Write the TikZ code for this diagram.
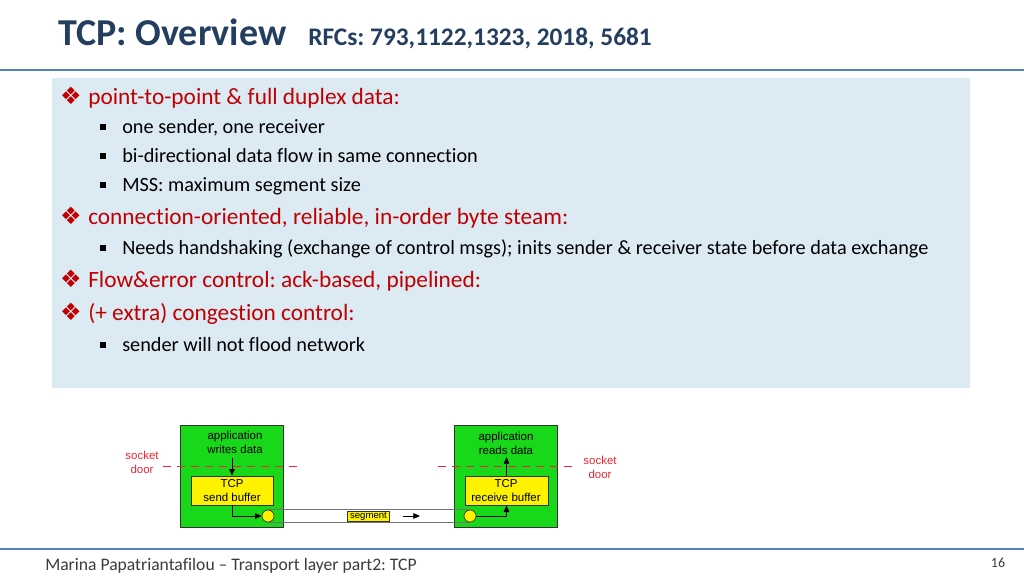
\documentclass[tikz,border=0pt]{standalone}
\usepackage{fontspec}
\setmainfont{Carlito}[Ligatures=NoCommon]
\newfontfamily\dejavu{DejaVu Sans}
\newfontfamily\arialf{Liberation Sans}
\usetikzlibrary{arrows.meta}
\definecolor{titleblue}{RGB}{36,62,96}
\definecolor{rulerblue}{RGB}{84,130,188}
\definecolor{boxblue}{RGB}{220,234,244}
\definecolor{bred}{RGB}{192,0,0}
\definecolor{ggreen}{RGB}{25,215,25}
\definecolor{sred}{RGB}{232,40,50}
\definecolor{footgray}{RGB}{60,60,60}
\pgfdeclarelayer{bg}
\pgfdeclarelayer{mid}
\pgfsetlayers{bg,mid,main}
\frenchspacing
\begin{document}
\begin{tikzpicture}[x=0.75pt,y=-0.75pt,
  lvlone/.style={anchor=base west, inner sep=0, text=bred, font=\fontsize{17.5}{20}\selectfont},
  lvltwo/.style={anchor=base west, inner sep=0, text=black, font=\fontsize{15.2}{18}\selectfont},
  diamondbullet/.style={anchor=base, inner sep=0, text=bred, font=\dejavu\fontsize{18}{18}\selectfont},
  sqbullet/.style={fill=black, inner sep=0, minimum size=5pt},
  dia/.style={align=center, inner sep=0, font=\arialf\fontsize{8.6}{10.5}\selectfont},
  sock/.style={align=center, inner sep=0, text=sred, font=\arialf\fontsize{8.6}{10.5}\selectfont},
  greenbox/.style={draw=black!80, fill=ggreen, line width=0.5pt, minimum width=77.25pt, minimum height=76.5pt, inner sep=0},
  ybox/.style={draw=black!80, fill=yellow, line width=0.5pt, minimum height=21.75pt, inner sep=0},
  port/.style={circle, draw=black!80, fill=yellow, line width=0.5pt, minimum size=9pt, inner sep=0},
  arr/.style={-{Triangle[length=5pt,width=4.2pt]}, line width=0.6pt, black},
  doorline/.style={sred, line width=0.6pt, dash pattern=on 6pt off 4.5pt},
  pipe/.style={black!55, line width=0.6pt}]
\useasboundingbox (0,0) rectangle (1024,576);
\begin{pgfonlayer}{bg}
\fill[white] (0,0) rectangle (1024,576);
\fill[boxblue] (52,78) rectangle (970,388);
\end{pgfonlayer}

% title
\node[anchor=base west, inner sep=0, text=titleblue, font=\bfseries\fontsize{28.5}{30}\selectfont] (title) at (58,45) {TCP: Overview};
\node[anchor=base west, inner sep=0, text=titleblue, font=\bfseries\fontsize{19}{21}\selectfont] (rfc) at (308,45) {RFCs: 793,1122,1323, 2018, 5681};
\draw[rulerblue, line width=2.2pt] (0,70) -- (1024,70);

\node[diamondbullet] (b1) at (71,104) {❖};
\node[lvlone] (t1) at (88,104) {point-to-point \& full duplex data:};
\node[sqbullet] (s1) at (103,127) {};
\node[lvltwo] (t2) at (122,133) {one sender, one receiver};
\node[sqbullet] (s2) at (103,156) {};
\node[lvltwo] (t3) at (122,162) {bi-directional data flow in same connection};
\node[sqbullet] (s3) at (103,185) {};
\node[lvltwo] (t4) at (122,191) {MSS: maximum segment size};
\node[diamondbullet] (b2) at (71,224) {❖};
\node[lvlone] (t5) at (88,224) {connection-oriented, reliable, in-order byte steam:};
\node[sqbullet] (s4) at (103,248) {};
\node[lvltwo] (t6) at (122,254) {Needs handshaking (exchange of control msgs); inits sender \& receiver state before data exchange};
\node[diamondbullet] (b3) at (71,287) {❖};
\node[lvlone] (t7) at (88,287) {Flow\&error control: ack-based, pipelined:};
\node[diamondbullet] (b4) at (71,320) {❖};
\node[lvlone] (t8) at (88,320) {(+ extra) congestion control:};
\node[sqbullet] (s5) at (103,345) {};
\node[lvltwo] (t9) at (122,351) {sender will not flood network};

% diagram
\begin{pgfonlayer}{bg}
\node[greenbox] (gL) at (231.5,476) {};
\node[greenbox] (gR) at (505.5,476) {};
\end{pgfonlayer}
\node[ybox, minimum width=61.5pt] (yL) at (232,490.5) {};
\node[ybox, minimum width=62.25pt] (yR) at (506.5,490.5) {};
\node[dia] (tcpL) at (232,491) {TCP\\send buffer};
\node[dia] (tcpR) at (506,491) {TCP\\receive buffer};
\node[dia] (appL) at (235,442) {application\\writes data};
\node[dia] (appR) at (506,443) {application\\reads data};
\node[port] (cL) at (268,516) {};
\node[port] (cR) at (470,516) {};
\begin{pgfonlayer}{mid}
\draw[pipe] (cL.north) -- (cR.north);
\draw[pipe] (cL.south) -- (cR.south);
\end{pgfonlayer}
\node[draw=black!80, fill=yellow, line width=0.4pt, inner xsep=2pt, inner ysep=0.6pt, font=\arialf\fontsize{7.2}{8}\selectfont] (seg) at (368.5,516) {segment};
\coordinate (segA) at (403,516);
\coordinate (segB) at (420,516);
\draw[arr] (segA) -- (segB);

\coordinate (dL1) at (163,466);
\coordinate (dL2) at (300,466);
\coordinate (dR1) at (438,466);
\coordinate (dR2) at (576,466);
\draw[doorline] (dL1) -- (dL2);
\draw[doorline] (dR1) -- (dR2);
\node[sock] (sockL) at (142,462) {socket\\door};
\node[sock] (sockR) at (600,467) {socket\\door};

\coordinate (aL) at (232,458);
\draw[arr] (aL) -- (yL.north);
\draw[arr] (yL.south) |- (cL.west);
\draw[arr] (cR.east) -| (yR.south);
\coordinate (aR) at (506.5,457);
\draw[arr] (yR.north) -- (aR);

% footer
\draw[rulerblue, line width=1.6pt] (0,549) -- (1024,549);
\node[anchor=base west, inner sep=0, text=footgray, font=\fontsize{13.2}{14}\selectfont] (foot) at (45,570) {Marina Papatriantafilou -- Transport layer part2: TCP};
\node[anchor=base, inner sep=0, text=footgray, font=\fontsize{10.5}{12}\selectfont] (page) at (998,567) {16};
\end{tikzpicture}
\end{document}
